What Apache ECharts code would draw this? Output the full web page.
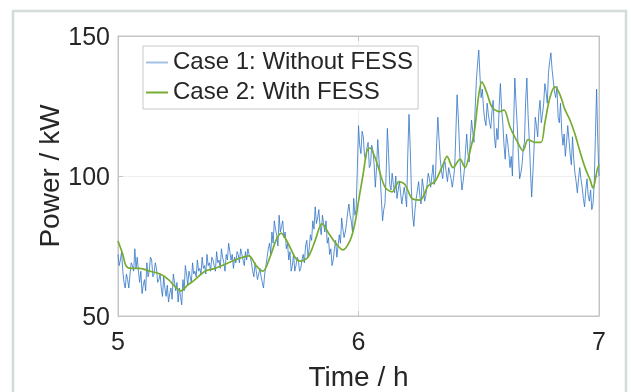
<!DOCTYPE html>
<html>
<head>
<meta charset="utf-8">
<script src="https://cdn.jsdelivr.net/npm/echarts@6/dist/echarts.min.js"></script>
<style>
html,body{margin:0;padding:0;background:#fff;}
#c{width:631px;height:392px;}
</style>
</head>
<body>
<div id="c"></div>
<script>
// Case 1 samples: 5.000 h to 7.000 h, step 0.005 h
const tStart = 5.0, tStep = 0.005;
const case1Power = [
72,68,70,73,66,62,60,65,63,60,65,69,68,66,74,67,71,66,62,66,
58,61,63,59,69,64,66,71,70,64,65,69,67,62,63,65,60,57,64,60,
57,61,55,58,60,56,65,62,59,62,55,60,57,54,63,59,68,65,61,66,
64,62,69,65,66,64,70,66,67,65,71,67,68,65,72,68,69,66,71,70,
68,66,73,69,70,67,74,71,69,66,72,70,76,73,70,72,67,71,69,73,
72,69,74,72,70,68,73,70,74,72,71,69,66,64,69,66,63,65,67,64,
62,60,65,68,71,74,76,72,80,76,84,81,79,75,86,80,82,84,78,80,
74,76,70,73,66,68,72,66,68,71,70,66,67,70,72,69,75,77,71,74,
79,77,84,81,89,83,85,88,82,79,86,83,80,84,76,78,72,74,68,70,
74,77,71,75,79,76,85,81,78,80,83,87,90,86,84,80,92,86,88,102,
118,111,108,116,114,107,106,110,112,103,104,111,109,104,96,103,113,106,100,92,
84,88,90,101,117,108,97,95,101,97,94,100,92,95,98,94,90,93,96,93,
89,108,122,110,95,86,82,88,92,95,98,93,90,99,96,91,93,97,101,99,
96,100,104,97,100,112,121,113,106,102,99,104,105,101,98,103,101,99,96,99,
103,116,129,121,110,101,95,98,102,109,115,108,105,113,120,116,112,124,134,140,
145,136,128,131,124,120,118,126,122,119,117,123,127,114,110,117,113,125,133,124,
119,111,106,115,112,108,103,107,100,118,135,126,118,108,99,101,104,110,112,127,
135,122,113,102,92.5,101,110,121,118,114,123,127,119,122,126,133,130,126,137,141,
144,138,134,130,128,132,121,119,126,116,111,115,107,112,118,113,108,104,114,106,
101,98,94,99,103,99,96,92,89,95,99,93,91,95,88,90,97,114,131,112,
100
];
const case2Time = [
5.000,5.020,5.033,5.054,5.090,5.133,5.175,5.210,5.237,5.262,
5.290,5.320,5.362,5.403,5.445,5.486,5.520,5.545,5.574,5.603,
5.632,5.657,5.678,5.707,5.736,5.757,5.790,5.820,5.848,5.880,
5.910,5.935,5.965,5.985,6.002,6.020,6.035,6.048,6.077,6.110,
6.140,6.168,6.193,6.222,6.256,6.290,6.318,6.351,6.368,6.393,
6.422,6.443,6.464,6.482,6.500,6.513,6.534,6.555,6.588,6.605,
6.630,6.663,6.684,6.705,6.734,6.759,6.775,6.796,6.817,6.838,
6.859,6.879,6.900,6.920,6.942,6.963,6.975,6.992,7.000
];
const case2Power = [
76.8,72,68,67,67,66,65,63,60.5,59,
61,63,66,67,68.5,70,71,71.5,68,66,
71,77,79.6,76,71,69.6,71,77,83,79,
75.5,73.6,77,83,92,101,109,110,104.6,96,
94.3,98,97,92,91.4,96.5,98,104,107,103,
106,103,109,116,129,133.6,129.6,124.6,123,123.6,
117.5,111.8,109,113,112,112,119,128,131.8,129,
123.6,120,115,109,103,98.6,95.7,102,104
];
const seriesNames = ['Case 1: Without FESS', 'Case 2: With FESS'];
const xTicks = [5, 6, 7];
const yTicks = [50, 100, 150];

const case1Data = case1Power.map((v, i) => [+(tStart + i * tStep).toFixed(3), v]);
const case2Data = case2Time.map((t, i) => [t, case2Power[i]]);

const FONT = 'Liberation Sans, Arial, sans-serif';
const TXT = '#262626';
const AX = '#c4c4c4';

const chart = echarts.init(document.getElementById('c'), null, {renderer: 'canvas'});
chart.setOption({
  animation: false,
  backgroundColor: '#ffffff',
  graphic: [{
    type: 'rect', z: -10,
    shape: {x: 13, y: 11, width: 613, height: 400},
    style: {fill: 'none', stroke: '#d3dbdb', lineWidth: 2.5}
  }],
  grid: {left: 118, right: 32, top: 36, bottom: 76, show: true, containLabel: false,
         outerBoundsMode: 'none',
         borderColor: AX, borderWidth: 1, backgroundColor: 'transparent'},
  legend: {
    orient: 'vertical', left: 143, top: 46,
    padding: [4, 5, 4, 3], itemGap: 5, itemWidth: 22, itemHeight: 2,
    backgroundColor: '#ffffff', borderColor: '#c8c8c8', borderWidth: 1,
    textStyle: {fontFamily: FONT, fontSize: 24, color: TXT, lineHeight: 25},
    data: [
      {name: seriesNames[0], icon: 'rect', itemStyle: {color: '#a3c0e7'}},
      {name: seriesNames[1], icon: 'rect', itemStyle: {color: '#77ac30'}}
    ]
  },
  xAxis: [{
    type: 'value', min: xTicks[0], max: xTicks[xTicks.length - 1], interval: 1,
    name: 'Time / h', nameLocation: 'middle', nameGap: 48,
    nameTextStyle: {fontFamily: FONT, fontSize: 28, color: TXT},
    axisLine: {show: true, lineStyle: {color: AX, width: 1}},
    axisTick: {show: true, inside: true, length: 5, lineStyle: {color: AX}},
    axisLabel: {fontFamily: FONT, fontSize: 25, color: TXT, margin: 15},
    splitLine: {show: true, lineStyle: {color: '#efefef', width: 1}}
  }, {
    type: 'value', position: 'top', min: xTicks[0], max: xTicks[xTicks.length - 1], interval: 1,
    axisLine: {show: true, lineStyle: {color: AX}},
    axisTick: {show: true, inside: true, length: 5, lineStyle: {color: AX}},
    axisLabel: {show: false}, splitLine: {show: false}
  }],
  yAxis: [{
    type: 'value', min: yTicks[0], max: yTicks[yTicks.length - 1], interval: 50,
    name: 'Power / kW', nameLocation: 'middle', nameGap: 53, nameMoveOverlap: false,
    nameTextStyle: {fontFamily: FONT, fontSize: 28, color: TXT},
    axisLine: {show: true, lineStyle: {color: AX, width: 1}},
    axisTick: {show: true, inside: true, length: 5, lineStyle: {color: AX}},
    axisLabel: {fontFamily: FONT, fontSize: 25, color: TXT, margin: 8,
                verticalAlign: 'top', lineHeight: 5},
    splitLine: {show: true, lineStyle: {color: '#efefef', width: 1}}
  }, {
    type: 'value', position: 'right', min: yTicks[0], max: yTicks[yTicks.length - 1], interval: 50,
    axisLine: {show: true, lineStyle: {color: AX}},
    axisTick: {show: true, inside: true, length: 5, lineStyle: {color: AX}},
    axisLabel: {show: false}, splitLine: {show: false}
  }],
  series: [{
    name: seriesNames[0], type: 'line', data: case1Data,
    symbol: 'none', z: 2,
    lineStyle: {color: '#2f74c6', width: 1, opacity: 0.8},
    itemStyle: {color: '#a3c0e7'}
  }, {
    name: seriesNames[1], type: 'line', data: case2Data,
    symbol: 'none', smooth: 0.3, z: 3,
    lineStyle: {color: '#77ac30', width: 1.7},
    itemStyle: {color: '#77ac30'}
  }]
});
</script>
</body>
</html>
